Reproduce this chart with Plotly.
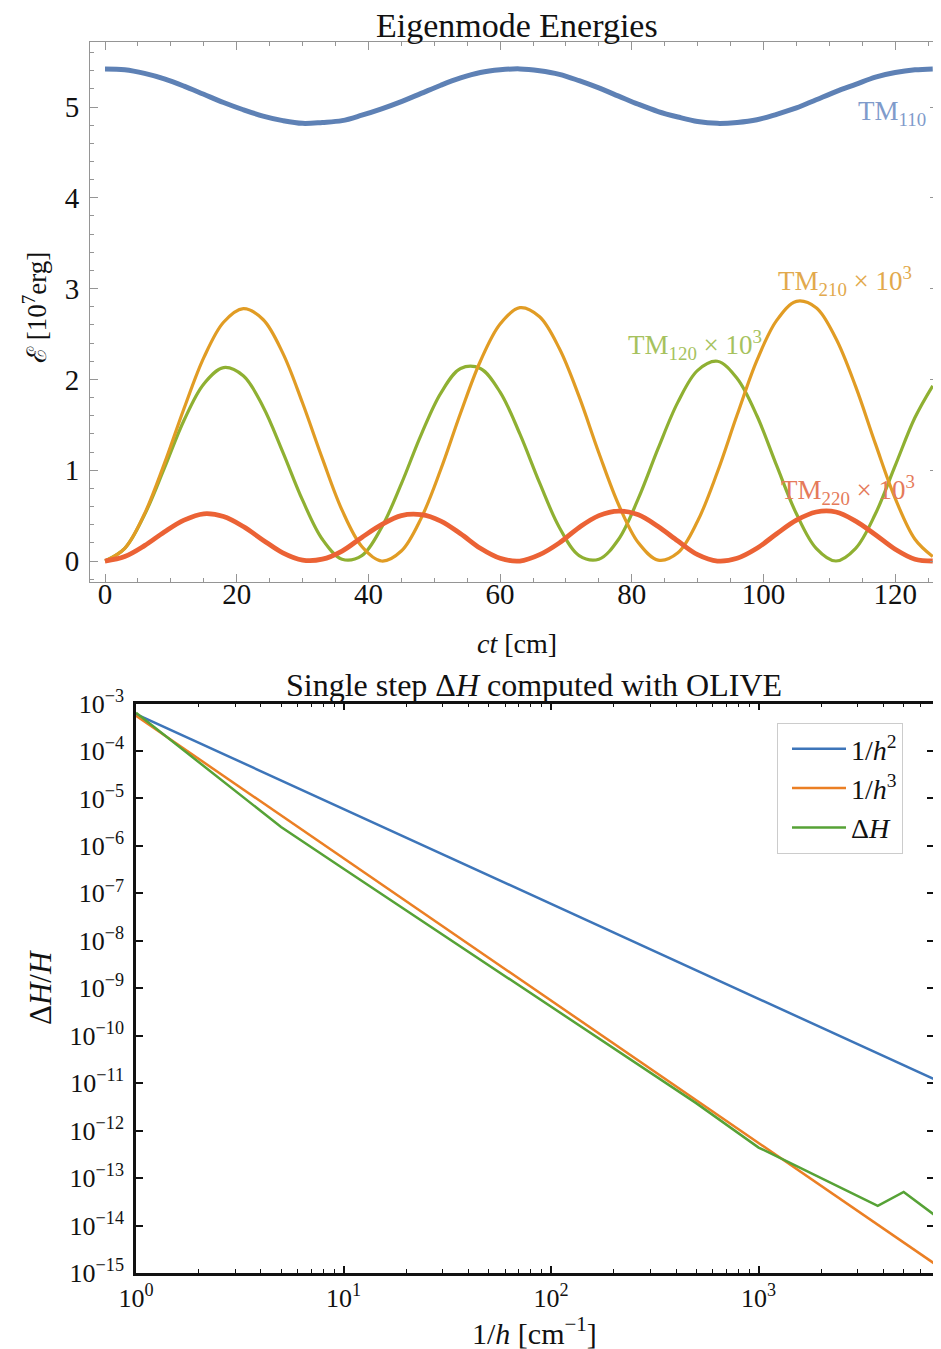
import plotly.graph_objects as go

# ---- top panel: eigenmode energies vs ct ----
ct = [0, 3, 6, 9, 12, 15, 18, 21, 24, 27, 30, 33, 36, 39, 42, 45, 48, 51, 54, 57, 60,
      63, 66, 69, 72, 75, 78, 81, 84, 87, 90, 93, 96, 99, 102, 105, 108, 111, 114,
      117, 120, 123, 125.7]

tm110 = [5.42, 5.41, 5.37, 5.31, 5.23, 5.14, 5.05, 4.97, 4.90, 4.85, 4.82, 4.83, 4.85,
         4.91, 4.98, 5.06, 5.15, 5.24, 5.32, 5.38, 5.41, 5.42, 5.40, 5.36, 5.29, 5.21,
         5.12, 5.03, 4.95, 4.89, 4.84, 4.82, 4.83, 4.86, 4.92, 4.99, 5.08, 5.17, 5.25,
         5.33, 5.38, 5.41, 5.42]

tm210 = [0, 0.14, 0.52, 1.07, 1.68, 2.24, 2.63, 2.78, 2.66, 2.29, 1.74, 1.13, 0.56, 0.16,
         0.00, 0.11, 0.47, 1.01, 1.63, 2.20, 2.61, 2.79, 2.69, 2.34, 1.81, 1.19, 0.62,
         0.20, 0.01, 0.09, 0.44, 0.98, 1.61, 2.21, 2.65, 2.86, 2.79, 2.45, 1.92, 1.29,
         0.69, 0.24, 0.05]

tm120 = [0, 0.14, 0.51, 1.02, 1.55, 1.95, 2.13, 2.04, 1.70, 1.20, 0.67, 0.24, 0.02, 0.06,
         0.37, 0.85, 1.39, 1.85, 2.12, 2.12, 1.86, 1.40, 0.86, 0.37, 0.06, 0.02, 0.24,
         0.69, 1.24, 1.75, 2.10, 2.20, 2.01, 1.60, 1.05, 0.52, 0.14, 0.00, 0.14, 0.52,
         1.05, 1.58, 1.93]

tm220 = [0, 0.05, 0.17, 0.32, 0.45, 0.52, 0.49, 0.38, 0.23, 0.09, 0.01, 0.02, 0.11, 0.26,
         0.40, 0.50, 0.51, 0.44, 0.30, 0.14, 0.03, 0.00, 0.07, 0.20, 0.37, 0.50, 0.55,
         0.51, 0.38, 0.22, 0.07, 0.00, 0.03, 0.14, 0.30, 0.45, 0.54, 0.54, 0.44, 0.29,
         0.13, 0.02, 0.00]

# ---- bottom panel: single step dH/H vs 1/h ----
h_ref = [1, 7000]
ref_h2 = [6.0e-4, 1.22e-11]
ref_h3 = [5.5e-4, 1.6e-15]

h_olive = [1, 5, 10, 50, 100, 500, 1000, 3750, 5000, 7000]
dh_olive = [6.4e-4, 2.5e-6, 3.3e-7, 3.1e-9, 4.1e-10, 3.8e-12, 4.4e-13, 2.6e-14, 5.1e-14, 1.7e-14]

y_exps = list(range(-15, -2))
x_exps = [0, 1, 2, 3]

# the page body adds an 8px margin, so the figure is 8px smaller than the window
OFF = 8
W, H = 941 - OFF, 1349 - OFF
SERIF = "Liberation Serif, DejaVu Serif, serif"

def px(x):
    return (x - OFF) / W

def py(y):
    return 1 - (y - OFF) / H

fig = go.Figure()

# top panel curves (mathematica colours)
top = [
    (tm110, "#5e81b5", 5),
    (tm120, "#8fb032", 3.2),
    (tm210, "#e19c24", 3.2),
    (tm220, "#eb6235", 4.8),
]
for vals, col, w in top:
    fig.add_trace(go.Scatter(
        x=ct, y=vals, mode="lines",
        line=dict(color=col, width=w, shape="spline", smoothing=1.0),
        xaxis="x", yaxis="y", showlegend=False, hoverinfo="skip",
    ))

# bottom panel lines
fig.add_trace(go.Scatter(x=h_ref, y=ref_h2, mode="lines", name="1/<i>h</i><sup>2</sup>",
                         line=dict(color="#3d75b9", width=2.5), xaxis="x2", yaxis="y2"))
fig.add_trace(go.Scatter(x=h_ref, y=ref_h3, mode="lines", name="1/<i>h</i><sup>3</sup>",
                         line=dict(color="#eb7f24", width=2.5), xaxis="x2", yaxis="y2"))
fig.add_trace(go.Scatter(x=h_olive, y=dh_olive, mode="lines", name="Δ<i>H</i>",
                         line=dict(color="#56a236", width=2.5), xaxis="x2", yaxis="y2"))

frame_top = "#959595"

fig.update_layout(
    template="none",
    width=W, height=H, autosize=False,
    margin=dict(l=0, r=0, t=0, b=0, autoexpand=False),
    plot_bgcolor="white", paper_bgcolor="white",
    font=dict(family=SERIF, size=26, color="#111"),
    xaxis=dict(
        domain=[px(90), px(938)], anchor="y", automargin=False,
        range=[-2.28, 126.5],
        tickvals=[0, 20, 40, 60, 80, 100, 120],
        ticks="inside", ticklen=8, tickwidth=1, tickcolor=frame_top,
        minor=dict(dtick=5, tick0=0, ticks="inside", ticklen=4, tickcolor=frame_top),
        showline=True, linecolor=frame_top, linewidth=1, mirror="allticks",
        showgrid=False, zeroline=False, tickfont=dict(size=29),
        ticklabelstandoff=-14,
    ),
    yaxis=dict(
        domain=[py(582), py(42)], anchor="x", automargin=False,
        range=[-0.231, 5.716],
        tickvals=[0, 1, 2, 3, 4, 5],
        ticks="inside", ticklen=8, tickwidth=1, tickcolor=frame_top,
        minor=dict(dtick=0.2, tick0=0, ticks="inside", ticklen=4, tickcolor=frame_top),
        showline=True, linecolor=frame_top, linewidth=1, mirror="allticks",
        showgrid=False, zeroline=False, tickfont=dict(size=29),
        ticklabelstandoff=4,
    ),
    xaxis2=dict(
        domain=[px(136), px(934)], anchor="y2", type="log", automargin=False,
        range=[0, 3.845],
        tickvals=[10 ** e for e in x_exps],
        ticktext=["10<sup>%d</sup>" % e for e in x_exps],
        ticks="inside", ticklen=7, tickwidth=1.5, tickcolor="#111",
        minor=dict(tickvals=[m * 10 ** e for e in x_exps for m in range(2, 10)],
                   ticks="inside", ticklen=4, tickwidth=1, tickcolor="#111"),
        showline=True, linecolor="#111", linewidth=2.5, mirror="allticks",
        showgrid=False, zeroline=False, tickfont=dict(size=26),
    ),
    yaxis2=dict(
        domain=[py(1273), py(703.5)], anchor="x2", type="log", automargin=False,
        range=[-15, -3],
        tickvals=[10.0 ** e for e in y_exps],
        ticktext=["10<sup>−%d</sup>" % (-e) for e in y_exps],
        ticks="inside", ticklen=7, tickwidth=1.5, tickcolor="#111",
        showline=True, linecolor="#111", linewidth=2.5, mirror="allticks",
        showgrid=False, zeroline=False, tickfont=dict(size=26),
        ticklabelstandoff=4,
    ),
    legend=dict(
        x=px(777), y=py(723), xanchor="left", yanchor="top",
        bgcolor="white", bordercolor="#cccccc", borderwidth=1,
        font=dict(size=28), tracegroupgap=0, itemwidth=54, indentation=9,
    ),
)

# titles and axis labels
notes = [
    ("Eigenmode Energies", 517, 25, 34, 0),
    ("<i>ct</i> [cm]", 517, 643, 28, 0),
    ("ℰ [10<sup>7</sup>erg]", 35, 308, 27, -90),
    ("Single step Δ<i>H</i> computed with OLIVE", 534, 685, 32, 0),
    ("1/<i>h</i> [cm<sup>−1</sup>]", 534, 1331, 30, 0),
    ("Δ<i>H</i>/<i>H</i>", 40, 988, 31, -90),
]
for txt, x, y, size, ang in notes:
    fig.add_annotation(text=txt, x=px(x), y=py(y), xref="paper", yref="paper",
                       showarrow=False, textangle=ang, font=dict(size=size, color="#111"),
                       xanchor="center", yanchor="middle")

# curve labels in the top panel
labels = [
    ("TM<sub>110</sub>", 119.5, 4.93, "#7f9bcb"),
    ("TM<sub>210</sub> × 10<sup>3</sup>", 112.4, 3.08, "#e2a94c"),
    ("TM<sub>120</sub> × 10<sup>3</sup>", 89.6, 2.38, "#a6c25e"),
    ("TM<sub>220</sub> × 10<sup>3</sup>", 112.9, 0.78, "#e57a5a"),
]
for txt, x, y, col in labels:
    fig.add_annotation(text=txt, x=x, y=y, xref="x", yref="y", showarrow=False,
                       font=dict(size=27, color=col))

fig.write_html("out.html")
